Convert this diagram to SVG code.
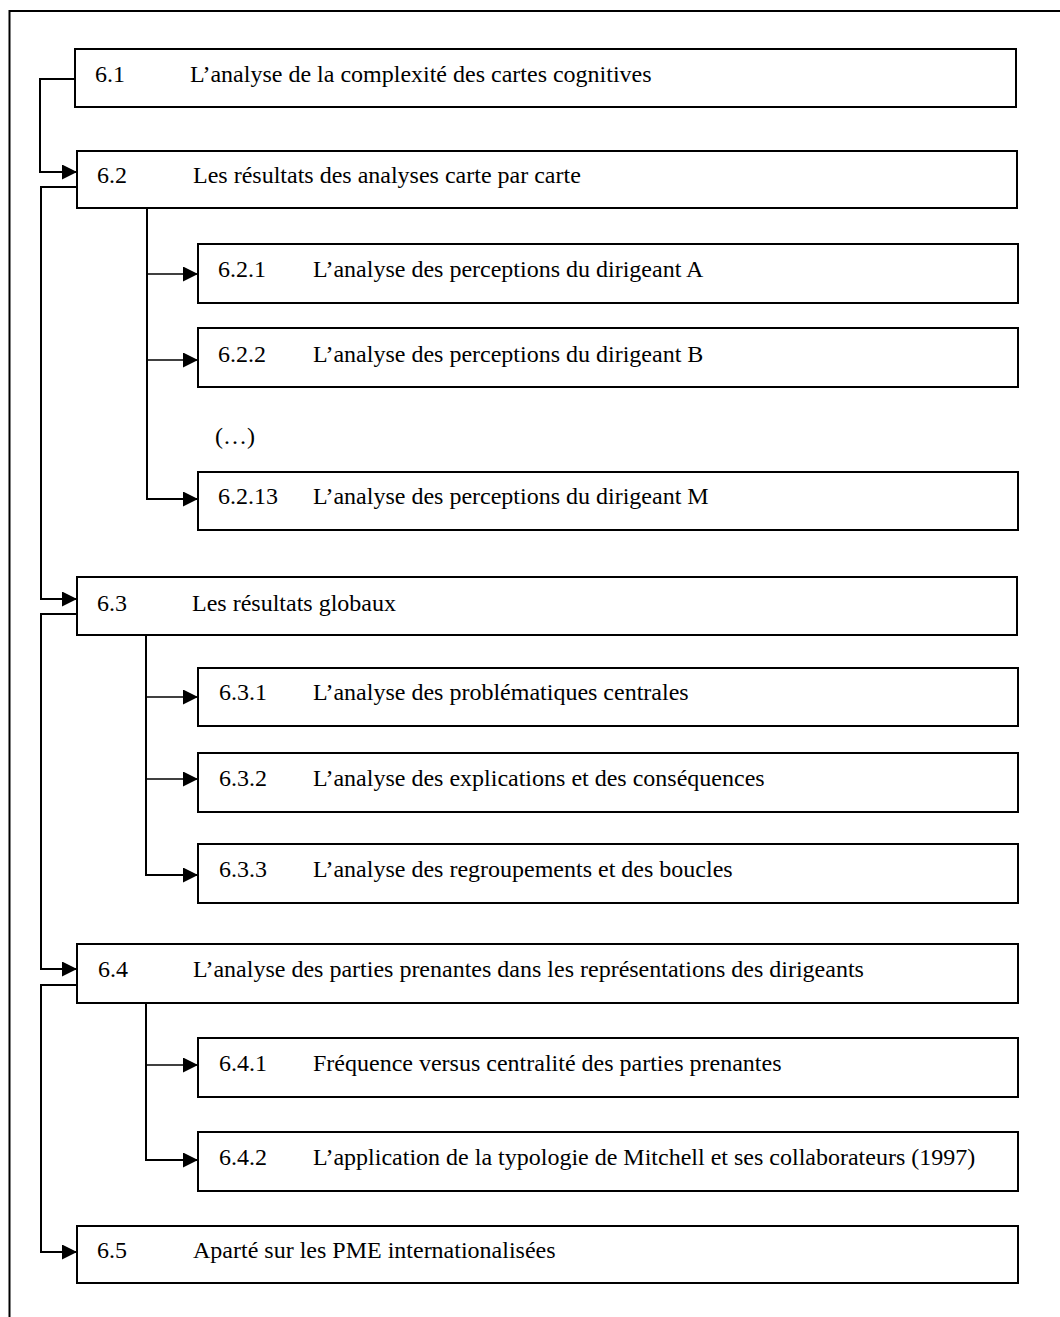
<svg xmlns="http://www.w3.org/2000/svg" width="1060" height="1317" viewBox="0 0 1060 1317">
  <style>
    .box { fill: #fff; stroke: #000; stroke-width: 2; }
    .lbl { font-family: "Liberation Serif", "Times New Roman", serif; font-size: 24px; fill: #000; }
    .main { fill: none; stroke: #000; stroke-width: 2; }
    .sub { fill: none; stroke: #000; stroke-width: 1.5; }
  </style>
  <defs>
    <marker id="arrow" markerUnits="userSpaceOnUse" markerWidth="16" markerHeight="16" refX="15" refY="7.5" orient="auto">
      <path d="M0,0 L15,7.5 L0,15 Z" fill="#000"/>
    </marker>
  </defs>
  <rect width="1060" height="1317" fill="#fff"/>

  <!-- outer frame (open at right and bottom) -->
  <path d="M9.5,1317 V11 H1060" fill="none" stroke="#000" stroke-width="2"/>

  <g id="connectors">
    <!-- chapter sequence -->
    <path class="main" d="M75,79 H40 V172 H77" marker-end="url(#arrow)"/>
    <path class="main" d="M77,187 H41 V599 H77" marker-end="url(#arrow)"/>
    <path class="main" d="M77,614 H41 V969 H77" marker-end="url(#arrow)"/>
    <path class="main" d="M77,985 H41 V1252 H77" marker-end="url(#arrow)"/>
    <!-- 6.2 sub-sections -->
    <path class="main" d="M147,208 V499 H198" marker-end="url(#arrow)"/>
    <path class="sub" d="M147,274 H198" marker-end="url(#arrow)"/>
    <path class="sub" d="M146,360 H198" marker-end="url(#arrow)"/>
    <!-- 6.3 sub-sections -->
    <path class="main" d="M146,635 V875 H198" marker-end="url(#arrow)"/>
    <path class="sub" d="M146,697 H198" marker-end="url(#arrow)"/>
    <path class="sub" d="M146,779 H198" marker-end="url(#arrow)"/>
    <!-- 6.4 sub-sections -->
    <path class="main" d="M146,1003 V1160 H198" marker-end="url(#arrow)"/>
    <path class="sub" d="M146,1065 H198" marker-end="url(#arrow)"/>
  </g>

  <g id="n6-1">
    <rect class="box" x="75" y="49" width="941" height="58"/>
    <text class="lbl" x="95" y="82">6.1</text>
    <text class="lbl" x="190" y="82">L’analyse de la complexité des cartes cognitives</text>
  </g>
  <g id="n6-2">
    <rect class="box" x="77" y="151" width="940" height="57"/>
    <text class="lbl" x="97" y="183">6.2</text>
    <text class="lbl" x="193" y="183">Les résultats des analyses carte par carte</text>
  </g>
  <g id="n6-2-1">
    <rect class="box" x="198" y="244" width="820" height="59"/>
    <text class="lbl" x="218" y="277">6.2.1</text>
    <text class="lbl" x="313" y="277">L’analyse des perceptions du dirigeant A</text>
  </g>
  <g id="n6-2-2">
    <rect class="box" x="198" y="328" width="820" height="59"/>
    <text class="lbl" x="218" y="362">6.2.2</text>
    <text class="lbl" x="313" y="362">L’analyse des perceptions du dirigeant B</text>
  </g>
  <g id="ellipsis">
    <text class="lbl" x="215" y="444">(…)</text>
  </g>
  <g id="n6-2-13">
    <rect class="box" x="198" y="472" width="820" height="58"/>
    <text class="lbl" x="218" y="504">6.2.13</text>
    <text class="lbl" x="313" y="504">L’analyse des perceptions du dirigeant M</text>
  </g>
  <g id="n6-3">
    <rect class="box" x="77" y="577" width="940" height="58"/>
    <text class="lbl" x="97" y="611">6.3</text>
    <text class="lbl" x="192" y="611">Les résultats globaux</text>
  </g>
  <g id="n6-3-1">
    <rect class="box" x="198" y="668" width="820" height="58"/>
    <text class="lbl" x="219" y="700">6.3.1</text>
    <text class="lbl" x="313" y="700">L’analyse des problématiques centrales</text>
  </g>
  <g id="n6-3-2">
    <rect class="box" x="198" y="753" width="820" height="59"/>
    <text class="lbl" x="219" y="786">6.3.2</text>
    <text class="lbl" x="313" y="786">L’analyse des explications et des conséquences</text>
  </g>
  <g id="n6-3-3">
    <rect class="box" x="198" y="844" width="820" height="59"/>
    <text class="lbl" x="219" y="877">6.3.3</text>
    <text class="lbl" x="313" y="877">L’analyse des regroupements et des boucles</text>
  </g>
  <g id="n6-4">
    <rect class="box" x="77" y="944" width="941" height="59"/>
    <text class="lbl" x="98" y="977">6.4</text>
    <text class="lbl" x="193" y="977">L’analyse des parties prenantes dans les représentations des dirigeants</text>
  </g>
  <g id="n6-4-1">
    <rect class="box" x="198" y="1038" width="820" height="59"/>
    <text class="lbl" x="219" y="1071">6.4.1</text>
    <text class="lbl" x="313" y="1071">Fréquence versus centralité des parties prenantes</text>
  </g>
  <g id="n6-4-2">
    <rect class="box" x="198" y="1132" width="820" height="59"/>
    <text class="lbl" x="219" y="1165">6.4.2</text>
    <text class="lbl" x="313" y="1165">L’application de la typologie de Mitchell et ses collaborateurs (1997)</text>
  </g>
  <g id="n6-5">
    <rect class="box" x="77" y="1226" width="941" height="57"/>
    <text class="lbl" x="97" y="1258">6.5</text>
    <text class="lbl" x="193" y="1258">Aparté sur les PME internationalisées</text>
  </g>
</svg>
